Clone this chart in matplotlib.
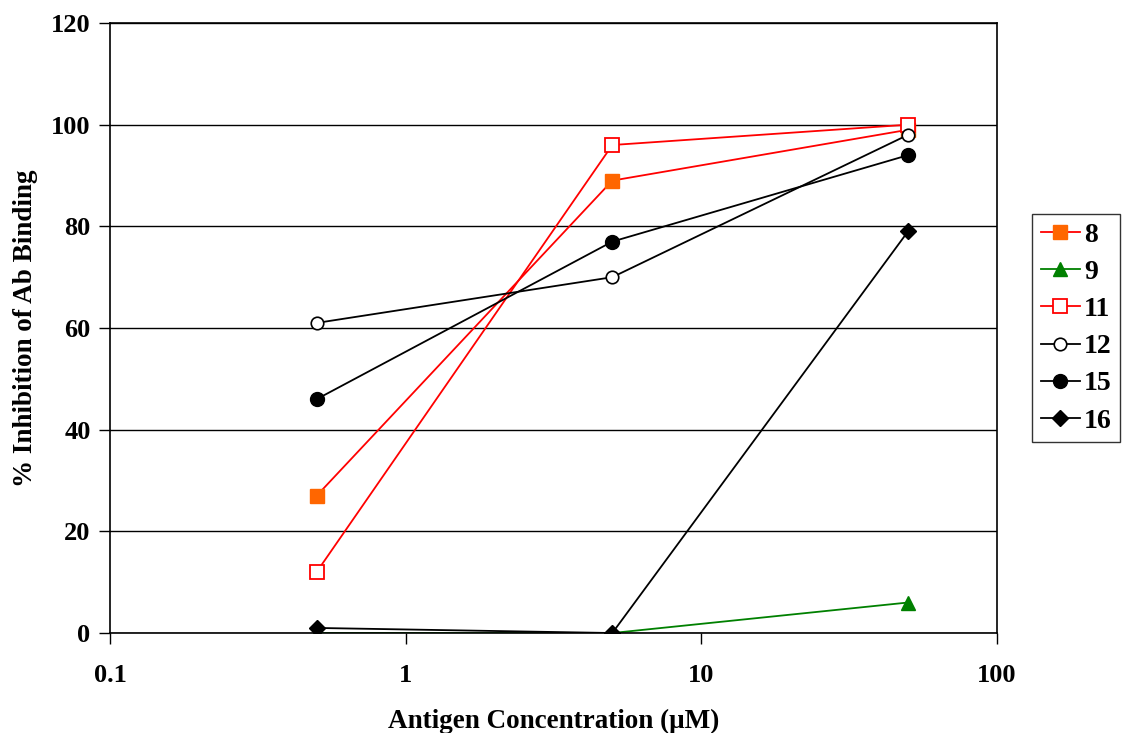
import matplotlib
matplotlib.use('Agg')
import matplotlib.pyplot as plt
from matplotlib.ticker import FixedLocator, NullLocator, FuncFormatter

plt.rcParams['font.family'] = ['Liberation Serif', 'DejaVu Serif']
plt.rcParams['font.weight'] = 'bold'

conc = [0.5, 5, 50]
s8 = [27, 89, 99]
s9 = [0, 0, 6]
s11 = [12, 96, 100]
s12 = [61, 70, 98]
s15 = [46, 77, 94]
s16 = [1, 0, 79]

fig = plt.figure(figsize=(11.22, 7.33), dpi=100)
ax = fig.add_axes([0.098, 0.1364, 0.7906, 0.8322])

ax.plot(conc, s8, color='red', lw=1.3, marker='s', ms=9.5, mfc='#FF6600', mec='#FF6600', label='8')
ax.plot(conc, s9, color='green', lw=1.3, marker='^', ms=10, mfc='green', mec='green', label='9')
ax.plot(conc, s11, color='red', lw=1.3, marker='s', ms=9.5, mfc='white', mec='red', mew=1.3, label='11')
ax.plot(conc, s12, color='black', lw=1.3, marker='o', ms=9, mfc='white', mec='black', mew=1.2, label='12')
ax.plot(conc, s15, color='black', lw=1.3, marker='o', ms=10, mfc='black', mec='black', label='15')
ax.plot(conc, s16, color='black', lw=1.3, marker='D', ms=8, mfc='black', mec='black', label='16')

ax.set_xscale('log')
ax.set_xlim(0.1, 100)
ax.set_ylim(0, 120)
ax.xaxis.set_major_locator(FixedLocator([0.1, 1, 10, 100]))
ax.xaxis.set_minor_locator(NullLocator())
ax.xaxis.set_major_formatter(FuncFormatter(lambda v, p: '%g' % v))
ax.set_yticks(range(0, 121, 20))
ax.yaxis.grid(True, color='black', lw=1)
ax.set_axisbelow(True)
for sp in ax.spines.values():
    sp.set_linewidth(1.2)
ax.tick_params(axis='both', direction='out', length=8, width=1, labelsize=19)
ax.tick_params(axis='x', pad=14)
ax.tick_params(axis='y', pad=6)
for lab in ax.get_xticklabels() + ax.get_yticklabels():
    lab.set_fontweight('bold')

ax.set_xlabel('Antigen Concentration (\u03bcM)', fontsize=19.5, fontweight='bold', labelpad=16)
ax.set_ylabel('% Inhibition of Ab Binding', fontsize=19.5, fontweight='bold', labelpad=9)

leg = ax.legend(loc='center left', bbox_to_anchor=(1.04, 0.5), frameon=True, fancybox=False,
                edgecolor='black', fontsize=20, handlelength=1.4, borderpad=0.3, labelspacing=0.42,
                handletextpad=0.15, borderaxespad=0)
leg.get_frame().set_linewidth(1)
for t in leg.get_texts():
    t.set_fontweight('bold')

fig.savefig('out.png', dpi=100)
